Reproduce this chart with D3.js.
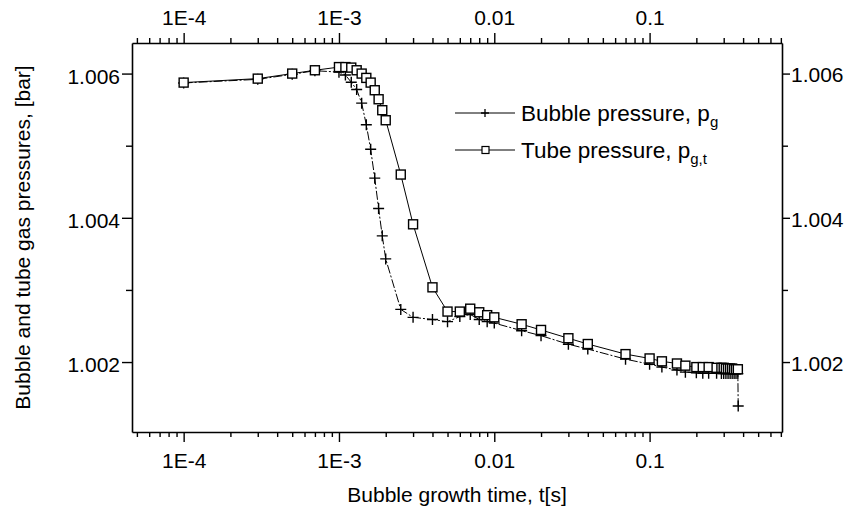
<!DOCTYPE html>
<html>
<head>
<meta charset="utf-8">
<script src="https://cdn.jsdelivr.net/npm/d3@7"></script>
<style>
  body { margin: 0; background: #fff; }
  text { font-family: "Liberation Sans", Arial, sans-serif; fill: #000; }
  .domain { stroke: #000; stroke-width: 1.6; }
  .tick line { stroke: #000; stroke-width: 1.4; }
</style>
</head>
<body>
<div id="chart-area"></div>
<script>
// tube pressure, p_g,t  (squares)
const tubeTime = [1e-4, 3e-4, 5e-4, 7e-4, 1.0e-3, 1.1e-3, 1.2e-3, 1.3e-3, 1.4e-3, 1.5e-3,
  1.6e-3, 1.7e-3, 1.8e-3, 1.9e-3, 2.0e-3, 2.5e-3, 3e-3, 4e-3, 5e-3, 6e-3, 7e-3, 8e-3, 9e-3,
  0.01, 0.015, 0.02, 0.03, 0.04, 0.07, 0.1, 0.12, 0.15, 0.17, 0.2, 0.22, 0.24, 0.27,
  0.29, 0.30, 0.31, 0.32, 0.33, 0.34, 0.35, 0.36, 0.37];
const tubePressure = [1.005875, 1.00593, 1.006, 1.006046, 1.00609, 1.00609, 1.006083, 1.006046, 1.006, 1.00594,
  1.005875, 1.005769, 1.005644, 1.005492, 1.005353, 1.0046, 1.00391, 1.003036, 1.0027, 1.0027, 1.00274, 1.00269, 1.00265,
  1.00262, 1.002524, 1.002445, 1.00233, 1.00225, 1.00211, 1.00205, 1.00201, 1.00198, 1.00195, 1.00193, 1.00193, 1.00193, 1.00192,
  1.00192, 1.00192, 1.00191, 1.00191, 1.00191, 1.00191, 1.0019, 1.0019, 1.0019];

// bubble pressure, p_g  (crosses)
const bubbleTime = [1e-4, 3e-4, 5e-4, 7e-4, 1.0e-3, 1.1e-3, 1.2e-3, 1.3e-3, 1.4e-3, 1.5e-3,
  1.6e-3, 1.7e-3, 1.8e-3, 1.9e-3, 2.0e-3, 2.5e-3, 3e-3, 4e-3, 5e-3, 6e-3, 7e-3, 8e-3, 9e-3,
  0.01, 0.015, 0.02, 0.03, 0.04, 0.07, 0.1, 0.12, 0.15, 0.17, 0.2, 0.22, 0.24, 0.27,
  0.29, 0.30, 0.31, 0.32, 0.33, 0.34, 0.35, 0.36, 0.37, 0.372];
const bubblePressure = [1.00587, 1.00592, 1.00599, 1.00604, 1.00602, 1.00598, 1.00588, 1.00578, 1.00559, 1.00529,
  1.00495, 1.00455, 1.00413, 1.00375, 1.00343, 1.00273, 1.00262, 1.00259, 1.00256, 1.00263, 1.00266, 1.00259, 1.00256,
  1.00254, 1.002435, 1.002366, 1.002247, 1.00218, 1.00204, 1.00197, 1.00193, 1.00189, 1.00186, 1.00185, 1.001845, 1.001845, 1.001845,
  1.00184, 1.00184, 1.00184, 1.00184, 1.00184, 1.00184, 1.00184, 1.00184, 1.00184, 1.00139];

const xTicks = [1e-4, 1e-3, 1e-2, 1e-1];
const xTickLabels = ['1E-4', '1E-3', '0.01', '0.1'];
const yTicks = [1.002, 1.004, 1.006];
const yTickLabels = ['1.002', '1.004', '1.006'];
const yMinorTicks = [1.003, 1.005];

const margins = { top: 43, right: 68, bottom: 79, left: 132 };
const width = 850 - margins.left - margins.right;
const height = 511 - margins.top - margins.bottom;

const svg = d3.select('#chart-area')
  .append('svg')
  .attr('width', 850)
  .attr('height', 511);

const g = svg.append('g')
  .attr('transform', 'translate(' + margins.left + ', ' + margins.top + ')');

const x = d3.scaleLog()
  .domain([4.65e-5, 0.712])
  .range([0, width]);

const y = d3.scaleLinear()
  .domain([1.00103, 1.006424])
  .range([height, 0]);

// minor log ticks 2..9 in each decade
const xMinor = [];
[1e-5, 1e-4, 1e-3, 1e-2, 1e-1].forEach((d) => {
  for (let k = 2; k <= 9; k++) {
    const v = d * k;
    if (v >= x.domain()[0] && v <= x.domain()[1]) xMinor.push(v);
  }
});

const fmtX = (d) => xTickLabels[xTicks.indexOf(d)];
const fmtY = (d) => yTickLabels[yTicks.indexOf(d)];

// bottom
g.append('g')
  .attr('transform', 'translate(0, ' + height + ')')
  .call(d3.axisBottom(x).tickValues(xMinor).tickSize(5).tickFormat(''))
  .call((a) => a.select('.domain').remove());
g.append('g')
  .attr('transform', 'translate(0, ' + height + ')')
  .call(d3.axisBottom(x).tickValues(xTicks).tickSize(10).tickSizeOuter(0).tickPadding(11).tickFormat(fmtX))
  .selectAll('text').attr('font-size', '21px');

// top
g.append('g')
  .call(d3.axisTop(x).tickValues(xMinor).tickSize(5).tickFormat(''))
  .call((a) => a.select('.domain').remove());
g.append('g')
  .call(d3.axisTop(x).tickValues(xTicks).tickSize(10).tickSizeOuter(0).tickPadding(8).tickFormat(fmtX))
  .selectAll('text').attr('font-size', '21px');

// left
g.append('g')
  .call(d3.axisLeft(y).tickValues(yMinorTicks).tickSize(6).tickFormat(''))
  .call((a) => a.select('.domain').remove());
g.append('g')
  .call(d3.axisLeft(y).tickValues(yTicks).tickSize(10).tickSizeOuter(0).tickPadding(2).tickFormat(fmtY))
  .selectAll('text').attr('font-size', '21px').attr('dy', '0.45em');

// right
g.append('g')
  .attr('transform', 'translate(' + width + ', 0)')
  .call(d3.axisRight(y).tickValues(yMinorTicks).tickSize(6).tickFormat(''))
  .call((a) => a.select('.domain').remove());
g.append('g')
  .attr('transform', 'translate(' + width + ', 0)')
  .call(d3.axisRight(y).tickValues(yTicks).tickSize(8).tickSizeOuter(0).tickPadding(1).tickFormat(fmtY))
  .selectAll('text').attr('font-size', '21px').attr('dy', '0.4em');

g.selectAll('.tick text').attr('fill', '#000');

// Axis labels
g.append('text')
  .attr('x', width / 2)
  .attr('y', height + 70)
  .attr('font-size', '21px')
  .attr('text-anchor', 'middle')
  .text('Bubble growth time, t[s]');

g.append('text')
  .attr('x', -(height / 2))
  .attr('y', -102)
  .attr('font-size', '21px')
  .attr('text-anchor', 'middle')
  .attr('transform', 'rotate(-90)')
  .text('Bubble and tube gas pressures, [bar]');

const bubbleData = bubbleTime.map((t, i) => ({ t: t, p: bubblePressure[i] }));
const tubeData = tubeTime.map((t, i) => ({ t: t, p: tubePressure[i] }));

const line = d3.line()
  .x((d) => x(d.t))
  .y((d) => y(d.p));

g.append('path')
  .datum(bubbleData)
  .attr('d', line)
  .attr('fill', 'none')
  .attr('stroke', '#000')
  .attr('stroke-width', 1)
  .attr('stroke-dasharray', '9,2,2,2');

g.append('path')
  .datum(tubeData)
  .attr('d', line)
  .attr('fill', 'none')
  .attr('stroke', '#000')
  .attr('stroke-width', 1);

const crossPath = (s) => 'M' + (-s) + ',0H' + s + 'M0,' + (-s) + 'V' + s;

g.selectAll('.cross')
  .data(bubbleData)
  .enter()
  .append('path')
  .attr('class', 'cross')
  .attr('transform', (d) => 'translate(' + x(d.t) + ',' + y(d.p) + ')')
  .attr('d', crossPath(5.5))
  .attr('stroke', '#000')
  .attr('stroke-width', 1.4);

g.selectAll('.square')
  .data(tubeData)
  .enter()
  .append('rect')
  .attr('class', 'square')
  .attr('x', (d) => x(d.t) - 4.5)
  .attr('y', (d) => y(d.p) - 4.5)
  .attr('width', 9)
  .attr('height', 9)
  .attr('fill', '#fff')
  .attr('stroke', '#000')
  .attr('stroke-width', 1.4);

// Legend
const legend = svg.append('g');
const rows = [
  { label: 'Bubble pressure, p', sub: 'g', y: 113, marker: 'cross' },
  { label: 'Tube pressure, p', sub: 'g,t', y: 150, marker: 'square' }
];
rows.forEach((r) => {
  legend.append('line')
    .attr('x1', 455).attr('x2', 515)
    .attr('y1', r.y).attr('y2', r.y)
    .attr('stroke', '#000').attr('stroke-width', 1);
  if (r.marker === 'cross') {
    legend.append('path')
      .attr('transform', 'translate(485,' + r.y + ')')
      .attr('d', crossPath(4))
      .attr('stroke', '#000').attr('stroke-width', 1.3);
  } else {
    legend.append('rect')
      .attr('x', 482).attr('y', r.y - 3.5)
      .attr('width', 7).attr('height', 7)
      .attr('fill', '#fff').attr('stroke', '#000').attr('stroke-width', 1.2);
  }
  const t = legend.append('text')
    .attr('x', 521)
    .attr('y', r.y + 8)
    .attr('font-size', '22.5px')
    .text(r.label);
  t.append('tspan')
    .attr('dy', 6)
    .attr('font-size', '15px')
    .text(r.sub);
});
</script>
</body>
</html>
